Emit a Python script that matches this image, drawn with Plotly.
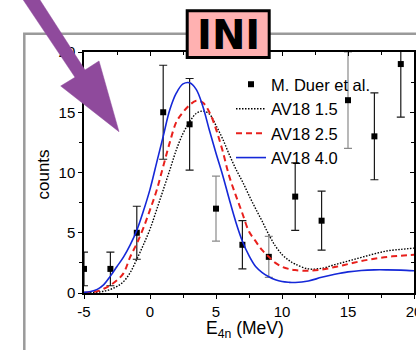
import plotly.graph_objects as go

# ---------------- data ----------------
exp_x = [-5, -3, -1, 1, 3, 5, 7, 9, 11, 13, 15, 17, 19]
exp_y = [2, 2, 5, 15, 14, 7, 4, 3, 8, 6, 16, 13, 19]
exp_err = [1.4, 1.4, 2.2, 3.9, 3.8, 2.7, 2.0, 1.7, 2.8, 2.45, 4.0, 3.6, 4.4]
gray_bar = [False, False, False, False, False, True, False, True, False, False, True, False, False]

curve_x = [-5, -4.5, -4, -3.5, -3, -2.5, -2, -1.5, -1, -0.5, 0, 0.5, 1, 1.5, 2, 2.5, 3, 3.5,
           4, 4.5, 5, 5.5, 6, 6.5, 7, 7.5, 8, 8.5, 9, 9.5, 10, 10.5, 11, 12, 13, 14, 15, 16,
           17, 18, 19, 20]
av18_15 = [0.01, 0.03, 0.07, 0.15, 0.3, 0.55, 0.95, 1.7, 2.8, 4.0, 5.3, 6.9, 8.55, 10.2, 11.9,
           13.24, 14.2, 14.9, 15.1, 14.85, 13.9, 12.8, 11.5, 10.3, 9.25, 8.1, 7.0, 5.95, 4.85,
           3.9, 3.2, 2.73, 2.4, 2.0, 2.05, 2.35, 2.65, 2.95, 3.25, 3.5, 3.62, 3.72]
av18_25 = [0.02, 0.06, 0.15, 0.35, 0.65, 1.05, 1.65, 3.0, 4.1, 5.4, 6.9, 8.5, 10.5, 12.5, 14.2,
           15.0, 15.6, 15.95, 15.8, 15.0, 13.6, 11.8, 9.7, 8.1, 6.6, 5.1, 4.3, 3.55, 3.0, 2.5,
           2.18, 2.0, 1.9, 1.85, 1.95, 2.15, 2.4, 2.65, 2.85, 3.0, 3.1, 3.17]
av18_40 = [0.05, 0.12, 0.3, 0.7, 1.4, 2.2, 3.0, 4.0, 5.2, 6.8, 8.6, 10.8, 13.0, 15.2, 16.6,
           17.35, 17.45, 16.9, 15.5, 13.5, 11.6, 9.8, 7.8, 5.9, 4.3, 3.1, 2.2, 1.7, 1.35, 1.1,
           0.95, 0.89, 0.87, 1.0, 1.3, 1.55, 1.75, 1.87, 1.92, 1.92, 1.9, 1.85]

names = ["M. Duer et al.", "AV18 1.5", "AV18 2.5", "AV18 4.0"]
x_ticks = [-5, 0, 5, 10, 15, 20]
y_ticks = [0, 5, 10, 15, 20]

# ---------------- layout geometry ----------------
W, H = 416, 350
ML, MR, MT, MB = 84, 2, 52, 57
PW, PH = W - ML - MR, H - MT - MB


def px(xp):
    return (xp - ML) / PW


def py(yp):
    return (MT + PH - yp) / PH


FONT = "Liberation Sans, Arial, sans-serif"

fig = go.Figure()

# experimental points (two groups of error-bar colours)
for grp, col, show in [(False, "#1a1a1a", True), (True, "#8a8a8a", False)]:
    xs = [x for x, g in zip(exp_x, gray_bar) if g == grp]
    ys = [y for y, g in zip(exp_y, gray_bar) if g == grp]
    es = [e for e, g in zip(exp_err, gray_bar) if g == grp]
    fig.add_trace(go.Scatter(
        x=xs, y=ys, mode="markers", name=names[0], legendgroup="exp",
        showlegend=show, legendrank=1,
        marker=dict(symbol="square", size=6, color="black"),
        error_y=dict(type="data", array=es, visible=True, color=col, thickness=1.2, width=4),
        cliponaxis=True,
    ))

fig.add_trace(go.Scatter(x=curve_x, y=av18_15, mode="lines", name=names[1], legendrank=2,
                         line=dict(color="black", width=1.4, dash="1.5px,1.5px", shape="spline")))
fig.add_trace(go.Scatter(x=curve_x, y=av18_25, mode="lines", name=names[2], legendrank=3,
                         line=dict(color="#e8201c", width=2, dash="6px,4px", shape="spline")))
fig.add_trace(go.Scatter(x=curve_x, y=av18_40, mode="lines", name=names[3], legendrank=4,
                         line=dict(color="#1528d8", width=1.6, shape="spline")))
# helper (empty) trace so the mirrored inside-tick axes are drawn
fig.add_trace(go.Scatter(x=[], y=[], xaxis="x2", yaxis="y2", showlegend=False, hoverinfo="skip"))

axis_common = dict(showgrid=False, zeroline=False, linecolor="black", linewidth=1.5,
                   tickcolor="black", tickwidth=1, ticklen=4, ticklabeloverflow="allow",
                   tickfont=dict(family=FONT, size=15, color="black"))

fig.update_layout(
    width=W, height=H,
    margin=dict(l=ML, r=MR, t=MT, b=MB, autoexpand=False),
    paper_bgcolor="white", plot_bgcolor="white",
    showlegend=True,
    legend=dict(x=px(231), y=py(67), xanchor="left", yanchor="top",
                bgcolor="rgba(0,0,0,0)", borderwidth=0,
                font=dict(family=FONT, size=16.5, color="black"),
                tracegroupgap=0, itemsizing="trace"),
    xaxis=dict(range=[-5, 20], tickvals=x_ticks, ticktext=[str(v) for v in x_ticks],
               ticks="outside", showline=True, mirror=True,
               minor=dict(ticks="outside", ticklen=3, dtick=2.5, tick0=0, tickcolor="black"),
               automargin=False, **axis_common),
    yaxis=dict(range=[0, 20], tickvals=y_ticks, ticktext=[str(v) for v in y_ticks],
               ticks="outside", showline=True, mirror=True,
               minor=dict(ticks="outside", ticklen=3, dtick=2.5, tick0=0, tickcolor="black"),
               automargin=False, **axis_common),
    xaxis2=dict(range=[-5, 20], overlaying="x", side="top", anchor="y2", tickvals=x_ticks,
                ticks="inside", showticklabels=False, showline=False, showgrid=False,
                zeroline=False, ticklen=4, tickcolor="black",
                minor=dict(ticks="inside", ticklen=3, dtick=2.5, tick0=0, tickcolor="black")),
    yaxis2=dict(range=[0, 20], overlaying="y", side="right", anchor="x2", tickvals=y_ticks,
                ticks="inside", showticklabels=False, showline=False, showgrid=False,
                zeroline=False, ticklen=4, tickcolor="black",
                minor=dict(ticks="inside", ticklen=3, dtick=2.5, tick0=0, tickcolor="black")),
)

# gray outer frame
fig.add_shape(type="path", xref="paper", yref="paper", layer="above",
              path=f"M {px(24.3)},{py(360)} L {px(24.3)},{py(33.7)} L {px(440)},{py(33.7)}",
              line=dict(color="#9a9a9a", width=2.5))

# purple arrow
pts = [(9.9, -20), (75, 77.3), (60.7, 86), (119, 131.7), (99, 61), (85, 70), (27.1, -20)]
path = "M " + " L ".join(f"{px(a)},{py(b)}" for a, b in pts) + " Z"
fig.add_shape(type="path", xref="paper", yref="paper", layer="above", path=path,
              fillcolor="#8f4a9c", line=dict(color="#8f4a9c", width=0.5))

# INI box
fig.add_shape(type="rect", xref="paper", yref="paper", layer="above",
              x0=px(187.2), x1=px(269.2), y0=py(57.5), y1=py(10.8),
              fillcolor="#ffb1b1", line=dict(color="black", width=3))
fig.add_annotation(x=px(228.2), y=py(34.5), xref="paper", yref="paper", text="<b>INI</b>",
                   showarrow=False, xanchor="center", yanchor="middle",
                   font=dict(family="DejaVu Sans", size=40, color="black"))

# axis titles
fig.add_annotation(x=px(42.5), y=py(175), xref="paper", yref="paper", text="counts",
                   textangle=-90, showarrow=False, xanchor="center", yanchor="middle",
                   font=dict(family=FONT, size=17, color="black"))
fig.add_annotation(x=px(245), y=py(329), xref="paper", yref="paper",
                   text="E<sub>4n</sub> (MeV)", showarrow=False,
                   xanchor="center", yanchor="middle",
                   font=dict(family=FONT, size=17.5, color="black"))

fig.write_html("out.html")
